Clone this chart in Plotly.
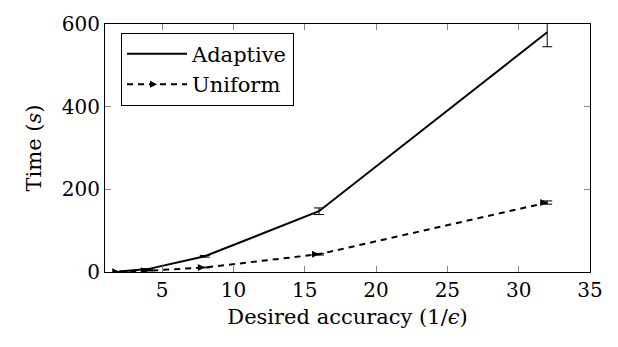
import plotly.graph_objects as go

accuracy = [2, 4, 8, 16, 32]
adaptive = [1, 7, 38, 147, 580]
adaptive_err = [0.5, 1, 2, 8, 35]
uniform = [0.5, 3, 11, 43, 168]
uniform_err = [0.2, 0.5, 1, 2, 4]
x_ticks = [5, 10, 15, 20, 25, 30, 35]
y_ticks = [0, 200, 400, 600]

FONT = "DejaVu Serif"
TICK_FS = 20
FS = 21

fig = go.Figure()
fig.add_trace(go.Scatter(
    x=accuracy, y=adaptive, name="Adaptive", mode="lines",
    line=dict(color="black", width=2),
    error_y=dict(type="data", array=adaptive_err, color="black", thickness=1, width=5),
))
fig.add_trace(go.Scatter(
    x=accuracy, y=uniform, name="Uniform", mode="lines+markers",
    line=dict(color="black", width=2, dash="6px,5px"),
    marker=dict(symbol="arrow-right", size=7, color="black"),
    error_y=dict(type="data", array=uniform_err, color="black", thickness=1, width=5),
))

axis_common = dict(
    showgrid=False, zeroline=False, showline=True, linecolor="black", linewidth=1,
    mirror="ticks", ticks="inside", ticklen=6, tickcolor="#888", tickwidth=1,
    tickfont=dict(family=FONT, size=TICK_FS, color="black"),
)
fig.update_xaxes(range=[1, 35], tickvals=x_ticks, **axis_common,
                 title=dict(text="Desired accuracy (1/<i>ϵ</i>)", font=dict(family=FONT, size=FS, color="black"), standoff=8))
fig.update_yaxes(range=[0, 600], tickvals=y_ticks, **axis_common,
                 title=dict(text="Time (<i>s</i>)", font=dict(family=FONT, size=FS, color="black"), standoff=14))

fig.update_layout(
    width=618, height=347, margin=dict(l=105, r=28, t=14, b=75),
    plot_bgcolor="white", paper_bgcolor="white",
    font=dict(family=FONT, color="black"),
    legend=dict(x=0.033, y=0.965, xanchor="left", yanchor="top",
                bordercolor="black", borderwidth=1, bgcolor="white",
                font=dict(family=FONT, size=FS, color="black"),
                itemwidth=60, tracegroupgap=0),
    showlegend=True,
)
fig.write_html("out.html")
